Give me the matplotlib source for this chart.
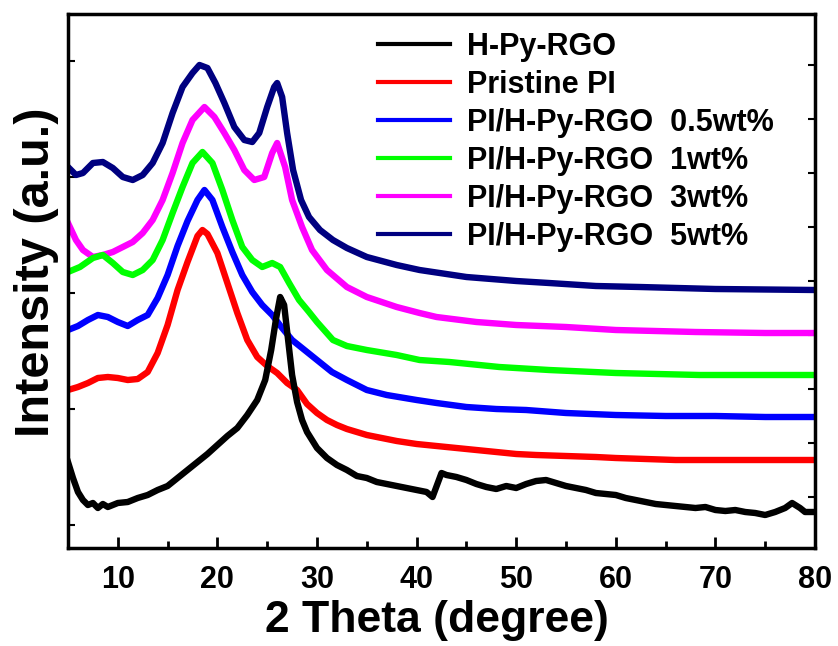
import matplotlib
matplotlib.use("Agg")
import matplotlib.pyplot as plt
from matplotlib.ticker import MultipleLocator

plt.rcParams['font.family'] = ['Liberation Sans', 'DejaVu Sans']

# XRD patterns, offset stacked (arbitrary units)
rgo_x = [5, 5.5, 6, 6.5, 7, 7.5, 8, 8.5, 9, 10, 11, 12, 13, 14, 15, 16, 17, 18, 19, 20,
         21, 22, 23, 24, 24.8, 25.4, 25.9, 26.3, 26.7, 27.1, 27.5, 28, 28.5, 29, 30, 31,
         32, 33, 34, 35, 36, 37, 38, 39, 40, 41, 41.6, 42.5, 43, 44, 45, 46, 47, 48, 49,
         50, 51, 52, 53, 54, 55, 56, 57, 58, 59, 60, 61, 62, 63, 64, 65, 66, 67, 68, 69,
         70, 71, 72, 73, 74, 75, 76, 77, 77.7, 78.5, 79, 80]
rgo_y = [86, 70, 56, 48, 43, 45, 40, 44, 41, 45, 46, 50, 53, 58, 62, 70, 78, 86, 94, 103,
         112, 120, 133, 148, 168, 198, 230, 251, 243, 208, 173, 146, 128, 116, 100, 90,
         83, 78, 72, 70, 66, 64, 62, 60, 58, 56, 51, 75, 73, 71, 68, 64, 61, 59, 62,
         60, 64, 67, 68, 65, 62, 60, 58, 55, 54, 53, 50, 48, 46, 44, 43, 42, 41, 40, 41,
         38, 37, 38, 36, 35, 33, 36, 40, 45, 40, 36, 36]

pi_x = [5, 6, 7, 8, 9, 10, 11, 12, 13, 14, 15, 16, 17, 18, 18.5, 19, 20, 21, 22, 23, 24,
        25, 26, 27, 28, 29, 30, 31, 32, 33, 34, 35, 36, 38, 40, 42, 44, 46, 48, 50, 52,
        55, 58, 60, 63, 66, 70, 75, 80]
pi_y = [158, 161, 165, 170, 171, 170, 168, 169, 176, 195, 223, 258, 286, 312, 318, 314,
        295, 265, 235, 208, 191, 182, 175, 165, 158, 144, 135, 128, 123, 119, 116, 113,
        111, 107, 104, 102, 100, 98, 96, 94, 93, 92, 91, 90, 89, 88, 88, 88, 88]

w05_x = [5, 6, 7, 8, 9, 10, 11, 12, 13, 14, 15, 16, 17, 18, 18.7, 19.5, 20.5, 21.5, 22.5,
         23.5, 24.5, 25.5, 26.5, 27.5, 28.5, 30, 31.5, 33, 35, 37, 40, 42, 45, 48, 51,
         55, 60, 65, 70, 75, 80]
w05_y = [218, 222, 228, 233, 231, 226, 222, 228, 233, 250, 273, 302, 327, 348, 358, 348,
         321, 296, 273, 256, 243, 233, 220, 208, 200, 188, 176, 168, 158, 153, 148, 145,
         141, 139, 138, 135, 133, 132, 132, 131, 131]

w1_x = [5, 6.2, 7.5, 8.5, 9.5, 10.5, 11.5, 12.5, 13.5, 14.5, 15.5, 16.5, 17.5, 18.5, 19.5,
        20.5, 21.5, 22.5, 23.5, 24.5, 25.5, 26.3, 27.2, 28.2, 29.2, 30, 31.6, 33, 35, 38,
        40.3, 43.3, 48.3, 53.3, 60, 68.4, 75, 80]
w1_y = [276, 281, 290, 293, 285, 276, 273, 278, 288, 308, 335, 361, 385, 396, 385, 358,
        328, 301, 288, 281, 285, 281, 265, 248, 236, 226, 208, 202, 198, 193, 188, 186,
        181, 178, 175, 173, 173, 173]

w3_x = [5, 5.8, 6.5, 7.5, 8.5, 9.5, 10.5, 11.5, 12.5, 13.5, 14.5, 15.5, 16.5, 17.5, 18.7,
        19.7, 20.7, 21.7, 22.7, 23.7, 24.7, 25.5, 26, 26.8, 27.5, 28.5, 29.5, 31, 33, 35,
        38, 40.3, 42, 46, 50, 55, 60, 68, 75, 80]
w3_y = [325, 308, 298, 291, 293, 296, 301, 306, 315, 328, 348, 375, 405, 428, 441, 431,
        415, 398, 378, 368, 371, 395, 405, 381, 348, 321, 298, 278, 261, 251, 241, 235,
        231, 226, 223, 221, 218, 216, 215, 215]

w5_x = [5, 5.8, 6.5, 7.5, 8.5, 9.5, 10.5, 11.5, 12.5, 13.5, 14.5, 15.5, 16.5, 17.5, 18.2,
        19, 19.8, 20.7, 21.7, 22.7, 23.5, 24.2, 25, 25.7, 26, 26.5, 27, 27.6, 28.4, 29.2,
        30.3, 31.6, 33, 35, 38, 40.3, 45, 50, 53.3, 58, 62.4, 70, 80]
w5_y = [381, 373, 375, 385, 386, 380, 371, 368, 373, 385, 405, 435, 461, 475, 483, 480,
        465, 445, 421, 408, 406, 415, 441, 461, 465, 451, 415, 378, 348, 331, 318, 308,
        300, 291, 283, 278, 271, 267, 265, 262, 261, 259, 258]

labels = ['H-Py-RGO', 'Pristine PI', 'PI/H-Py-RGO  0.5wt%', 'PI/H-Py-RGO  1wt%',
          'PI/H-Py-RGO  3wt%', 'PI/H-Py-RGO  5wt%']
colors = ['#000000', '#ff0000', '#0000ff', '#00ff00', '#ff00ff', '#000080']
series = [(rgo_x, rgo_y), (pi_x, pi_y), (w05_x, w05_y), (w1_x, w1_y),
          (w3_x, w3_y), (w5_x, w5_y)]

fig = plt.figure(figsize=(8.38, 6.46), dpi=100)
ax = fig.add_axes([68 / 838, 98 / 646, 747 / 838, 534 / 646])

handles = [None] * len(series)
for i in reversed(range(len(series))):
    x, y = series[i]
    handles[i], = ax.plot(x, y, color=colors[i], lw=4.6, label=labels[i],
                          solid_joinstyle='round')

ax.set_xlim(5, 80)
ax.set_ylim(0, 534)
ax.xaxis.set_major_locator(MultipleLocator(10))
ax.xaxis.set_minor_locator(MultipleLocator(5))
ax.yaxis.set_major_locator(MultipleLocator(116, offset=23))
ax.yaxis.set_minor_locator(MultipleLocator(54, offset=51))
ax.set_yticklabels([])

for s in ax.spines.values():
    s.set_linewidth(2.5)
ax.tick_params(axis='x', which='major', direction='in', length=8, width=2,
               labelsize=22, pad=12, top=False)
ax.tick_params(axis='x', which='minor', direction='in', length=5, width=2, top=False)
ax.tick_params(axis='y', which='major', direction='in', length=5, width=1.5,
               left=True, right=False, labelleft=False)
ax.tick_params(axis='y', which='minor', direction='in', length=5, width=1.5,
               left=False, right=True)
for lab in ax.get_xticklabels():
    lab.set_fontweight('bold')

ax.set_xlabel('2 Theta (degree)', fontsize=32, fontweight='bold')
ax.set_ylabel('Intensity (a.u.)', fontsize=35, fontweight='bold')
ax.xaxis.set_label_coords(0.494, -0.098)
ax.yaxis.set_label_coords(-0.012, 0.516)

leg = ax.legend(handles=handles, loc='upper left', bbox_to_anchor=(0.415, 0.966),
                frameon=False, prop={'size': 22, 'weight': 'bold'},
                handlelength=2.35, handletextpad=0.55,
                labelspacing=0.26, borderpad=0, borderaxespad=0)
for ln in leg.get_lines():
    ln.set_linewidth(3)

fig.savefig('out.png', dpi=100)
